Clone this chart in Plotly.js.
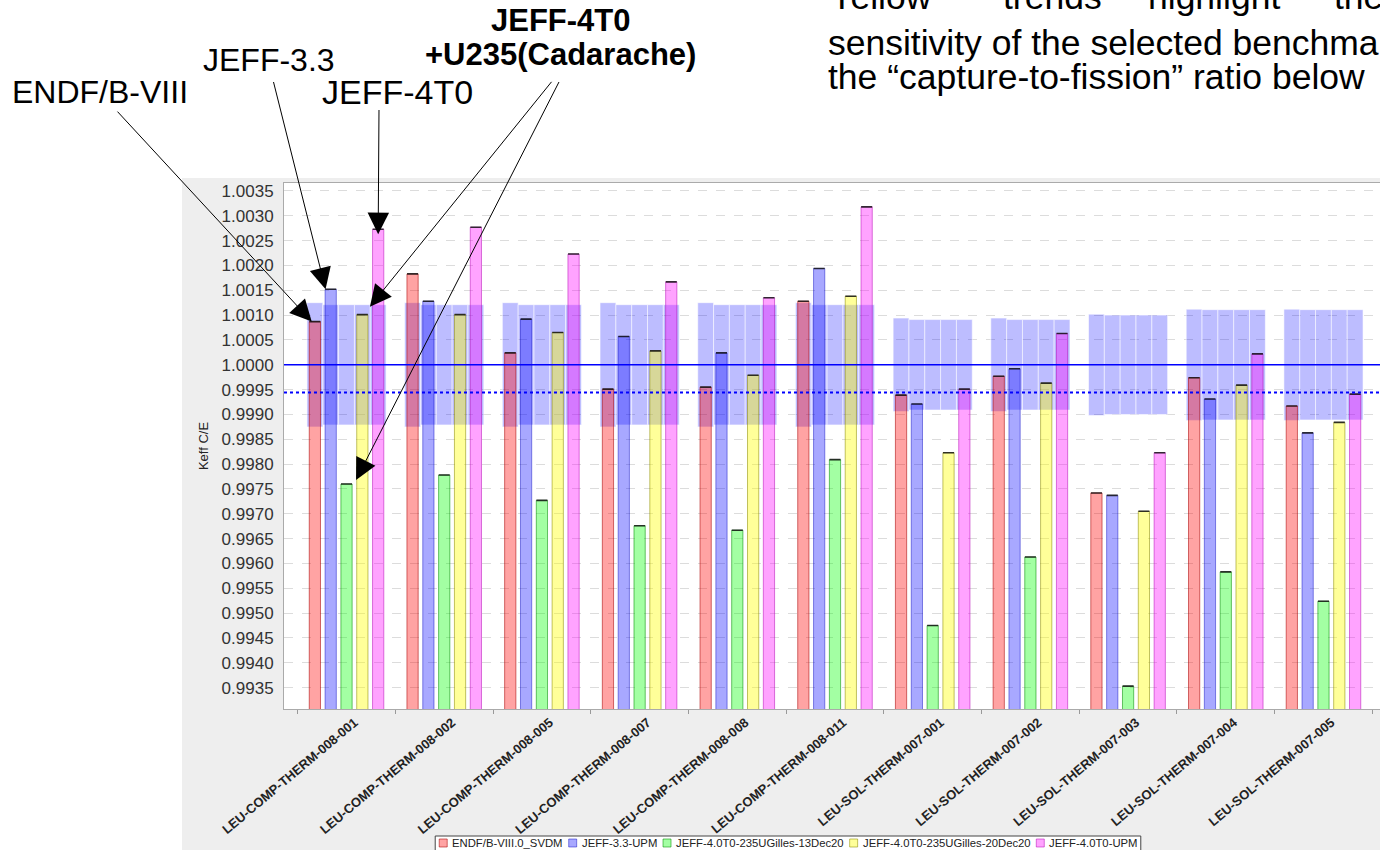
<!DOCTYPE html>
<html>
<head>
<meta charset="utf-8">
<script src="https://cdn.plot.ly/plotly-3.0.1.min.js"></script>
<style>
html,body{margin:0;padding:0;background:#fff;overflow:hidden;width:1380px;height:850px}
#chart{width:1400px;height:850px}
</style>
</head>
<body>
<div id="chart"></div>
<script>
// ---------------- data ----------------
const categories = [
  "LEU-COMP-THERM-008-001","LEU-COMP-THERM-008-002","LEU-COMP-THERM-008-005",
  "LEU-COMP-THERM-008-007","LEU-COMP-THERM-008-008","LEU-COMP-THERM-008-011",
  "LEU-SOL-THERM-007-001","LEU-SOL-THERM-007-002","LEU-SOL-THERM-007-003",
  "LEU-SOL-THERM-007-004","LEU-SOL-THERM-007-005"
];
const seriesNames = [
  "ENDF/B-VIII.0_SVDM","JEFF-3.3-UPM","JEFF-4.0T0-235UGilles-13Dec20",
  "JEFF-4.0T0-235UGilles-20Dec20","JEFF-4.0T0-UPM"
];
const endfB80   = [1.00087,1.00183,1.00024,0.99951,0.99955,1.00128,0.99939,0.99977,0.99742,0.99974,0.99917];
const jeff33Upm = [1.00152,1.00128,1.00092,1.00057,1.00024,1.00194,0.99921,0.99992,0.99737,0.99931,0.99863];
const jeff40Gilles13 = [0.99760,0.99778,0.99727,0.99676,0.99667,0.99809,0.99475,0.99613,0.99353,0.99583,0.99524];
const jeff40Gilles20 = [1.00101,1.00101,1.00065,1.00028,0.99979,1.00138,0.99823,0.99963,0.99705,0.99959,0.99884];
const jeff40Upm = [1.00273,1.00277,1.00223,1.00167,1.00135,1.00318,0.99951,1.00063,0.99823,1.00022,0.99941];
// experimental uncertainty (half width of shaded band around C/E = 1)
const uncFirst = [0.00125,0.00125,0.00125,0.00125,0.00125,0.00125,0.00094,0.00094,0.00102,0.00112,0.00112];
const uncOther = [0.00121,0.00121,0.00121,0.00121,0.00121,0.00121,0.00091,0.00091,0.00100,0.00111,0.00111];
const refValue = 1.0;
const meanValue = 0.99944;
const yTickVals = [0.9935,0.9940,0.9945,0.9950,0.9955,0.9960,0.9965,0.9970,0.9975,0.9980,0.9985,
                   0.9990,0.9995,1.0000,1.0005,1.0010,1.0015,1.0020,1.0025,1.0030,1.0035];

// ---------------- geometry helpers ----------------
const W = 1400, H = 850;
const PL = 284, PT = 183, PW = 1102, PH = 526;
const XR = [-0.64, 10.64], YR = [0.99307, 1.00366];
const pxX = px => (px - PL) / PW;
const pxY = py => (PT + PH - py) / PH;
const dX = px => XR[0] + (px - PL) / PW * (XR[1] - XR[0]);
const dY = py => YR[1] - (py - PT) / PH * (YR[1] - YR[0]);

const GW = 0.81, SLOT = GW / 5, BW = 0.115;
const slotLeft = i => -GW / 2 + i * SLOT;
const barLeft = i => slotLeft(i) + (SLOT - BW) / 2;
const barRight = i => barLeft(i) + BW;

const seriesValues = [endfB80, jeff33Upm, jeff40Gilles13, jeff40Gilles20, jeff40Upm];
const fills = ['rgba(255,0,0,0.36)','rgba(0,0,255,0.34)','rgba(0,255,0,0.36)','rgba(255,255,0,0.40)','rgba(255,0,255,0.36)'];
const edges = ['rgba(170,0,0,0.55)','rgba(0,0,190,0.45)','rgba(0,140,0,0.55)','rgba(140,140,0,0.55)','rgba(180,0,180,0.5)'];

const traces = [];
for (let i = 0; i < 5; i++) {
  const u = i === 0 ? uncFirst : uncOther;
  traces.push({
    type: 'bar', x: categories, y: u.map(v => 2 * v), base: u.map(v => refValue - v),
    offset: slotLeft(i), width: SLOT,
    marker: {color: 'rgba(0,0,255,0.26)', line: {color: 'rgba(255,255,255,0.55)', width: 1}},
    showlegend: false, hoverinfo: 'skip'
  });
}
for (let i = 0; i < 5; i++) {
  traces.push({
    type: 'bar', name: seriesNames[i], x: categories, y: seriesValues[i],
    offset: barLeft(i), width: BW,
    marker: {color: fills[i], line: {color: edges[i], width: 1}},
    error_y: {type: 'constant', value: 0, width: 5.5, thickness: 1.6, color: 'rgba(20,20,20,0.85)'}
  });
}

const ann = [];
const shapes = [
  {type: 'rect', xref: 'paper', yref: 'paper', x0: pxX(182), x1: pxX(W), y0: pxY(178), y1: pxY(H),
   fillcolor: '#eeeeee', line: {width: 0}, layer: 'below'},
  {type: 'rect', xref: 'paper', yref: 'paper', x0: 0, x1: 1, y0: 0, y1: 1,
   fillcolor: '#ffffff', line: {width: 0}, layer: 'below'},
  {type: 'line', xref: 'paper', yref: 'y', x0: 0, x1: 1, y0: refValue, y1: refValue,
   line: {color: '#0000ff', width: 1.5}},
  {type: 'line', xref: 'paper', yref: 'y', x0: 0, x1: 1, y0: meanValue, y1: meanValue,
   line: {color: '#0000ff', width: 2, dash: 'dot'}}
];
const F = 'Liberation Sans, Arial, sans-serif';
function label(text, x, y, size, xanchor, bold, color) {
  ann.push({text: text, xref: 'paper', yref: 'paper', x: pxX(x), y: pxY(y), xanchor: xanchor, yanchor: 'middle',
            showarrow: false, borderpad: 0,
            font: {family: F, size: size, color: color || '#000', weight: bold ? 'bold' : 'normal'}});
}
label('ENDF/B-VIII', 11, 92, 32, 'left');
label('JEFF-3.3', 202, 60, 32, 'left');
label('JEFF-4T0', 321, 92, 34, 'left');
label('JEFF-4T0', 561, 21, 31, 'center', true);
label('+U235(Cadarache)', 560, 55, 31, 'center', true);
label('Yellow', 829, -3.5, 35.5, 'left');
label('trends', 1002, -3.5, 35.5, 'left');
label('highlight', 1147, -3.5, 35.5, 'left');
label('the', 1333, -3.5, 35.5, 'left');
label('sensitivity of the selected benchmarks to', 827, 43, 35.5, 'left');
label('the \u201ccapture-to-fission\u201d ratio below', 827, 77, 35.5, 'left');

function arrow(hx, hy, tx, ty) {
  ann.push({text: ' ', font: {size: 1}, x: hx, y: hy, xref: 'x', yref: 'y', axref: 'x', ayref: 'y',
            ax: dX(tx), ay: dY(ty), showarrow: true, arrowhead: 2, arrowsize: 4.3, arrowwidth: 1,
            arrowcolor: '#000', standoff: 0, startstandoff: 0});
}
arrow(0 + barLeft(0) + 0.025, endfB80[0], 116, 110);
arrow(0 + barLeft(1) + 0.005, jeff33Upm[0], 273, 80);
arrow(0 + slotLeft(4) + SLOT / 2, jeff40Upm[0] - 0.0001, 379, 108);
arrow(0 + barRight(3) + 0.02, jeff40Gilles20[0] + 0.00016, 553, 80);
arrow(0 + barRight(2) + 0.04, jeff40Gilles13[0] + 0.00008, 560, 80);

// ---------------- compact legend box (as in the original chart) ----------------
(function () {
  const LF = 11.3, SQ = 8, G1 = 4, G2 = 7, PAD = 4, CY = 843, TOP = 836;
  const ctx = document.createElement('canvas').getContext('2d');
  ctx.font = LF + 'px "Liberation Sans"';
  const tw = seriesNames.map(s => ctx.measureText(s).width);
  const total = PAD * 2 + tw.reduce((a, w) => a + SQ + G1 + w, 0) + G2 * (seriesNames.length - 1);
  const left = 788 - total / 2;
  shapes.push({type: 'rect', xref: 'paper', yref: 'paper', x0: pxX(left), x1: pxX(left + total),
               y0: pxY(TOP), y1: pxY(TOP + 26), fillcolor: '#ffffff', line: {color: '#444', width: 1}});
  let cx = left + PAD;
  seriesNames.forEach((name, i) => {
    shapes.push({type: 'rect', xref: 'paper', yref: 'paper', x0: pxX(cx), x1: pxX(cx + SQ),
                 y0: pxY(CY - SQ / 2), y1: pxY(CY + SQ / 2), fillcolor: fills[i], line: {color: edges[i], width: 1}});
    label(name, cx + SQ + G1, CY, LF, 'left', false, '#222');
    cx += SQ + G1 + tw[i] + G2;
  });
})();

const layout = {
  width: W, height: H,
  margin: {l: PL, r: W - PL - PW, t: PT, b: H - PT - PH, autoexpand: false},
  paper_bgcolor: '#ffffff', plot_bgcolor: 'rgba(0,0,0,0)',
  barmode: 'overlay', showlegend: false,
  font: {family: F, color: '#222'},
  xaxis: {type: 'category', range: XR, tickangle: -40, automargin: false,
          tickfont: {family: F, size: 13, weight: 'bold', color: '#222'}, ticklabelshift: 8,
          ticks: 'outside', ticklen: 4, tickcolor: '#999', tickson: 'boundaries',
          showgrid: false, zeroline: false, showline: true, linecolor: '#aaa', mirror: true, fixedrange: true},
  yaxis: {range: YR, tickvals: yTickVals, tickformat: '.4f', automargin: false,
          tickfont: {family: F, size: 17, color: '#333'},
          ticks: '', ticklabelstandoff: 6, showgrid: true, gridcolor: '#dcdcdc', griddash: 'dash', gridwidth: 1,
          zeroline: false, showline: true, linecolor: '#aaa', mirror: true, fixedrange: true,
          title: {text: 'Keff C/E', font: {family: F, size: 13, color: '#222'}, standoff: 10}},
  shapes: shapes,
  annotations: ann
};

Plotly.newPlot('chart', traces, layout, {displayModeBar: false, staticPlot: true});
</script>
</body>
</html>
